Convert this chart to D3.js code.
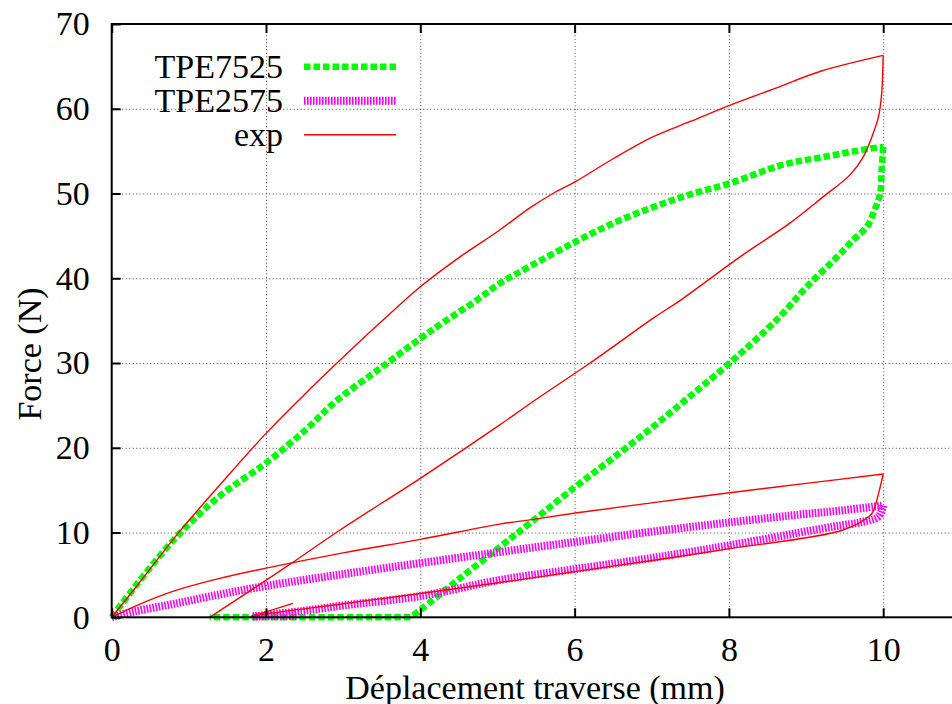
<!DOCTYPE html>
<html>
<head>
<meta charset="utf-8">
<script src="https://cdn.jsdelivr.net/npm/d3@7"></script>
<style>
  body { margin: 0; background: #fff; }
  svg { display: block; }
</style>
</head>
<body>
<script>
// data: [deplacement (mm), force (N)], each branch drawn as its own piece
var tpe7525Load = [[0,0],[0.3,3.6],[0.84,9.5],[1.4,14.3],[2.0,18.2],[2.5,22.0],[2.92,25.6],[3.5,29.5],[4.0,32.9],
  [4.3,34.8],[4.73,37.4],[5.03,39.4],[5.42,41.4],[6.01,44.3],[6.5,46.5],[7.02,48.4],[7.5,49.9],[8.01,51.2],
  [8.7,53.4],[9.22,54.3],[9.83,55.3],[10.0,55.5]];
var tpe7525Unload = [[10.0,55.5],[9.98,52.8],[9.96,50.0],[9.89,48.1],[9.79,46.1],[9.61,44.5],[9.4,42.5],[9.01,39.0],
  [8.62,35.1],[8.01,30.0],[7.5,26.1],[7.02,22.5],[6.5,18.8],[6.01,15.4],[5.42,11.1],[5.03,8.3],[4.5,4.5],
  [4.0,0.86],[3.87,0]];
var tpe7525Rest = [[3.87,0],[1.27,0]];

var tpe2575Load = [[0,0],[0.3,0.7],[0.84,1.65],[1.4,2.7],[2.0,3.7],[3.0,5.1],[4.0,6.4],[5.03,7.7],[6.01,8.9],
  [7.0,10.1],[8.01,11.2],[9.0,12.2],[9.35,12.5],[9.92,13.1],[10.0,13.2]];
var tpe2575Unload = [[10.0,13.2],[9.94,11.9],[9.7,11.2],[9.35,10.7],[8.01,8.5],[7.0,7.0],[6.01,5.7],[5.03,4.4],
  [4.0,2.5],[3.0,1.4],[2.57,0.86],[1.83,0.1]];
var tpe2575Rest = [[1.83,0.1],[2.4,0.15]];

// exp: two tests (TPE7525 then TPE2575), one series
var expBigLoad = [[0,0],[0.3,3.4],[0.86,9.9],[1.4,15.6],[2.0,21.7],[2.5,26.3],[2.92,30.0],[3.52,35.1],[4.0,39.0],
  [4.51,42.5],[5.03,45.7],[5.42,48.3],[5.72,50.0],[6.01,51.4],[6.5,54.1],[7.02,56.7],[7.5,58.5],[8.01,60.4],
  [8.6,62.4],[9.18,64.4],[10.0,66.3]];
var expBigUnload = [[10.0,66.3],[9.98,61.8],[9.94,59.1],[9.87,57.1],[9.74,54.3],[9.57,52.2],[9.22,49.6],[8.79,46.5],
  [8.14,42.5],[7.37,37.4],[7.02,35.3],[6.2,30.0],[5.42,25.2],[5.03,22.7],[4.0,16.4],[2.96,10.3],[2.27,6.0],[1.27,0]];
var expSmallLoad = [[0,0],[0.3,1.3],[0.84,3.2],[1.4,4.6],[2.0,5.8],[3.0,7.6],[4.0,9.2],[5.03,11.0],[5.42,11.5],
  [6.01,12.3],[7.0,13.5],[8.01,14.7],[9.0,15.8],[10.0,16.9]];
var expSmallUnload = [[10.0,16.9],[9.87,12.5],[9.83,12.0],[9.48,10.3],[8.01,8.1],[7.0,6.7],[6.01,5.4],[5.03,4.1],
  [4.0,2.8],[3.0,1.6],[2.0,0.4],[1.8,0.07]];
var expSmallRest = [[1.8,0.07],[2.35,1.65]];

var xTicks = [0, 2, 4, 6, 8, 10];
var yTicks = [0, 10, 20, 30, 40, 50, 60, 70];

function init(){
    var w = 952, h = 704;
    var left = 111.7, top = 24, bottom = 617.3;
    var right = left + 11 * 77.15; // x range runs to 11, cut by the page edge
    var font = "'Liberation Serif', 'Times New Roman', Times, serif";
    var fs = 34;

    var x = d3.scaleLinear().domain([0, 11]).range([left, right]);
    var y = d3.scaleLinear().domain([0, 70]).range([bottom, top]);

    var svg = d3.select("body").append("svg")
        .attr("width", w)
        .attr("height", h)
        .style("font-family", font);

    //dotted grid
    svg.append("g")
        .attr("transform", "translate(0," + bottom + ")")
        .call(d3.axisBottom(x).tickValues(xTicks.slice(1)).tickSize(-(bottom - top)).tickFormat(""))
        .call(function(g){ g.select(".domain").remove(); })
        .selectAll("line")
        .attr("stroke", "#444").attr("stroke-dasharray", "1,2.5");

    svg.append("g")
        .attr("transform", "translate(" + left + ",0)")
        .call(d3.axisLeft(y).tickValues(yTicks.slice(1, -1)).tickSize(-(right - left)).tickFormat(""))
        .call(function(g){ g.select(".domain").remove(); })
        .selectAll("line")
        .attr("stroke", "#444").attr("stroke-dasharray", "1,2.5");

    //curves
    var line = d3.line()
        .x(function(d){ return x(d[0]); })
        .y(function(d){ return y(d[1]); })
        .curve(d3.curveCatmullRom.alpha(0.5));

    var series = [
        {name: "TPE7525", data: [tpe7525Load, tpe7525Unload, tpe7525Rest], color: "#00ff00", width: 6.5, dash: "6.5,3"},
        {name: "TPE2575", data: [tpe2575Load, tpe2575Unload, tpe2575Rest], color: "#ff00ff", width: 8, dash: "1.6,1.4"},
        {name: "exp", data: [expBigLoad, expBigUnload, expSmallLoad, expSmallUnload, expSmallRest], color: "#ff0000", width: 1.4, dash: null}
    ];

    series.forEach(function(s){
        svg.append("g").selectAll("path")
            .data(s.data)
            .enter()
            .append("path")
            .attr("d", line)
            .attr("fill", "none")
            .attr("stroke", s.color)
            .attr("stroke-width", s.width)
            .attr("stroke-dasharray", s.dash);
    });

    //border
    svg.append("rect")
        .attr("x", left).attr("y", top)
        .attr("width", right - left).attr("height", bottom - top)
        .attr("fill", "none").attr("stroke", "#000").attr("stroke-width", 2);

    //axes with inward ticks
    var xAxis = svg.append("g")
        .attr("transform", "translate(0," + bottom + ")")
        .call(d3.axisBottom(x).tickValues(xTicks).tickSize(-9).tickPadding(20));
    var yAxis = svg.append("g")
        .attr("transform", "translate(" + left + ",0)")
        .call(d3.axisLeft(y).tickValues(yTicks).tickSize(-9).tickPadding(22));
    var topAxis = svg.append("g")
        .attr("transform", "translate(0," + top + ")")
        .call(d3.axisTop(x).tickValues(xTicks).tickSize(-9).tickFormat(""));

    [xAxis, yAxis, topAxis].forEach(function(g){
        g.attr("font-family", null).attr("font-size", null);
        g.select(".domain").remove();
        g.selectAll("line").attr("stroke", "#000").attr("stroke-width", 2);
        g.selectAll("text").attr("font-size", fs).style("font-family", font);
    });

    //axis titles
    svg.append("text")
        .attr("x", (left + right) / 2 - 1)
        .attr("y", 698.5)
        .attr("text-anchor", "middle")
        .attr("font-size", fs)
        .text("Déplacement traverse (mm)");

    svg.append("text")
        .attr("transform", "translate(41,354) rotate(-90)")
        .attr("text-anchor", "middle")
        .attr("font-size", fs)
        .text("Force (N)");

    //legend
    var legend = svg.append("g").selectAll("g")
        .data(series)
        .enter()
        .append("g")
        .attr("transform", function(d, i){ return "translate(0," + (66.7 + i * 34) + ")"; });

    legend.append("text")
        .attr("x", 283)
        .attr("y", 11)
        .attr("text-anchor", "end")
        .attr("font-size", fs)
        .text(function(d){ return d.name; });

    legend.append("line")
        .attr("x1", 304).attr("x2", 396)
        .attr("stroke", function(d){ return d.color; })
        .attr("stroke-width", function(d){ return d.width; })
        .attr("stroke-dasharray", function(d){ return d.dash; });
}
window.onload = init;
</script>
</body>
</html>
